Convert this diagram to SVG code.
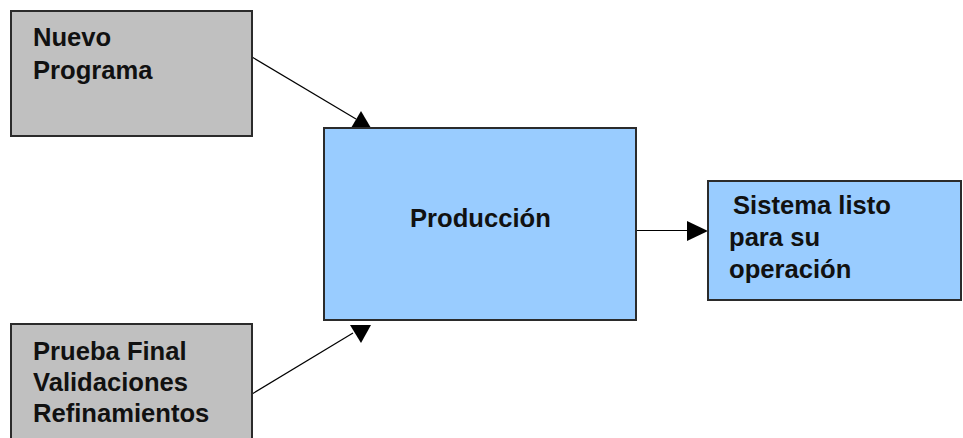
<svg xmlns="http://www.w3.org/2000/svg" width="963" height="438" viewBox="0 0 963 438">
<style>
.box{stroke:#2b2b2b;stroke-width:2}
.gray{fill:#c0c0c0}
.blue{fill:#99ccff}
.t{font-family:"Liberation Sans",Arial,sans-serif;font-weight:bold;font-size:25.6px;fill:#111}
.ln{stroke:#000;stroke-width:1.2;fill:none}
.head{fill:#000}
</style>
<rect width="963" height="438" fill="#fff"/>
<g id="connectors">
<line class="ln" x1="252" y1="57" x2="356" y2="119"/>
<polygon class="head" points="351,128 371,128 361,111"/>
<line class="ln" x1="252" y1="394" x2="353" y2="333"/>
<polygon class="head" points="350,325 371,325 361,343"/>
<line class="ln" x1="636" y1="230.5" x2="690" y2="230.5"/>
<polygon class="head" points="687,221 687,241 708,231"/>
</g>
<g id="nuevo">
<rect class="box gray" x="11" y="11" width="241" height="125"/>
<text class="t" x="33" y="46">Nuevo</text>
<text class="t" x="33" y="79">Programa</text>
</g>
<g id="prueba">
<rect class="box gray" x="11" y="324" width="241" height="130"/>
<text class="t" x="33" y="360">Prueba Final</text>
<text class="t" x="33" y="391">Validaciones</text>
<text class="t" x="33" y="422">Refinamientos</text>
</g>
<g id="produccion">
<rect class="box blue" x="324" y="128" width="312" height="192"/>
<text class="t" x="410" y="227">Producción</text>
</g>
<g id="sistema">
<rect class="box blue" x="708" y="181" width="253" height="119"/>
<text class="t" x="733" y="214">Sistema listo</text>
<text class="t" x="729" y="246">para su</text>
<text class="t" x="729" y="278">operación</text>
</g>
</svg>
